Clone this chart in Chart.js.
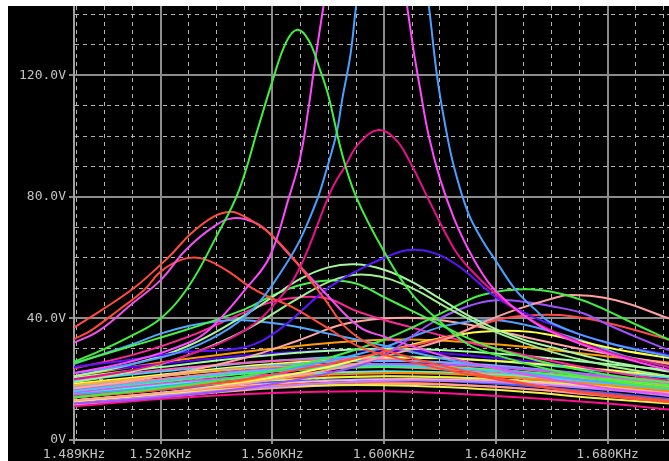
<!DOCTYPE html>
<html>
<head>
<meta charset="utf-8">
<script src="https://cdn.jsdelivr.net/npm/chart.js@4.4.1/dist/chart.umd.min.js"></script>
<style>
html, body { margin: 0; padding: 0; background: #fff; }
#wrap { position: absolute; left: 8px; top: 6px; width: 661px; height: 455px; background: #000; }
</style>
</head>
<body>
<div id="wrap"><canvas id="myChart" width="661" height="455"></canvas></div>
<script>
// axis ticks
const xMajorTicks = [1489, 1520, 1560, 1600, 1640, 1680];
const xMajorLabels = ['1.489KHz', '1.520KHz', '1.560KHz', '1.600KHz', '1.640KHz', '1.680KHz'];
const xMinorTicks = [1490, 1500, 1510, 1530, 1540, 1550, 1570, 1580, 1590, 1610, 1620, 1630, 1650, 1660, 1670, 1690, 1700];
const yMajorTicks = [0, 40, 80, 120];
const yMajorLabels = ['0V', '40.0V', '80.0V', '120.0V'];
const yMinorTicks = [10, 20, 30, 50, 60, 70, 90, 100, 110, 130, 140];

// tall / prominent curves (frequency in Hz, value in V)
const tallGreenF = [1489, 1500, 1510, 1520, 1530, 1540, 1548, 1555, 1560, 1565, 1569, 1573, 1577, 1580, 1585, 1590, 1600, 1610, 1620, 1630, 1640, 1660, 1680, 1702];
const tallGreenV = [25.7, 30, 34.5, 40, 50.5, 67, 82, 103, 118, 131, 135, 131.5, 122, 113.5, 94, 80, 62, 48, 39, 31.5, 28, 23, 19.5, 17];
const magentaTallF = [1489, 1510, 1530, 1538, 1551, 1559, 1566, 1570, 1573, 1575, 1577, 1582, 1588, 1594, 1600, 1605, 1610, 1613, 1616, 1620, 1625, 1630, 1635, 1640, 1650, 1660, 1680, 1702];
const magentaTallV = [22, 26, 32, 36.8, 50.3, 60.2, 80, 93, 109.5, 122.7, 135, 165, 205, 220, 205, 165, 131.6, 115, 100, 86, 73, 63, 55, 49, 41, 35.5, 28.5, 23];
const blueTallF = [1489, 1510, 1530, 1545, 1555, 1565, 1570, 1576, 1579, 1583, 1585, 1588, 1590, 1596, 1603, 1610, 1616, 1619, 1622, 1625, 1630, 1635, 1640, 1647, 1654, 1660, 1680, 1702];
const blueTallV = [22, 25, 30, 37, 45, 58, 66, 79, 87.7, 101, 112, 127, 143, 185, 205, 185, 143, 119.5, 103, 90, 75, 66, 59, 49.5, 43, 38.5, 32, 27.5];
const crimsonF = [1489, 1510, 1530, 1550, 1562, 1570, 1581, 1586, 1591, 1598, 1604, 1609, 1616, 1625, 1630, 1640, 1650, 1660, 1680, 1702];
const crimsonV = [20, 23, 28, 36, 46, 57, 82, 90, 97.6, 102, 99, 92, 79, 63, 57, 48, 41, 36, 29, 24];
const redPeakF = [1489, 1499, 1511, 1523, 1531, 1539, 1545, 1549, 1554, 1559, 1567, 1579, 1586, 1595, 1610, 1630, 1660, 1680, 1702];
const redPeakV = [37, 42.8, 50.4, 60.3, 68, 73.5, 75.1, 74, 71.4, 68, 60.3, 46, 37.3, 31.5, 27, 22.5, 17, 14.5, 12.5];
const pinkPeakF = [1489, 1498, 1510, 1520, 1529, 1539, 1546, 1554, 1559, 1567, 1579, 1591, 1600, 1620, 1640, 1660, 1680, 1702];
const pinkPeakV = [32, 36, 45, 52.6, 62.5, 70.2, 73, 71.4, 68, 60, 48.3, 37.3, 34, 28, 23.5, 20, 17, 15];
const red60F = [1489, 1495, 1505, 1514, 1520, 1527, 1533, 1538, 1545, 1552, 1559, 1567, 1579, 1591, 1600, 1620, 1640, 1660, 1680, 1702];
const red60V = [33.2, 36, 42.8, 49.3, 55.4, 59.2, 60, 58.7, 55, 50.4, 47, 43.8, 37.3, 30.7, 28, 23.5, 20, 17, 15, 13];
const violetF = [1489, 1510, 1530, 1550, 1562, 1579, 1591, 1601, 1609, 1618, 1627, 1640, 1650, 1660, 1680, 1702];
const violetV = [24, 26.5, 29, 30.5, 36, 49.3, 56, 60.3, 62.5, 61.5, 57, 47, 42, 38, 32, 28];
const lightGreen1F = [1489, 1510, 1530, 1550, 1560, 1570, 1580, 1590, 1600, 1610, 1620, 1630, 1640, 1650, 1660, 1680, 1702];
const lightGreen1V = [21, 25, 31, 41, 47, 53, 56.8, 57.8, 56, 52, 46.5, 41, 36.5, 33, 30.5, 26, 22.5];
const lightGreen2F = [1489, 1510, 1530, 1550, 1570, 1583, 1595, 1609, 1622, 1630, 1640, 1660, 1680, 1702];
const lightGreen2V = [19, 22.5, 28, 36, 47, 53, 54.3, 50.4, 43.8, 40, 35.5, 29, 24.5, 21];
const greenMidF = [1489, 1510, 1530, 1550, 1560, 1570, 1580, 1590, 1600, 1610, 1620, 1630, 1640, 1660, 1680, 1702];
const greenMidV = [25.3, 31, 36.5, 43, 47.5, 51, 52.5, 51.5, 47, 42.5, 38, 33.5, 30, 25, 21.5, 19];
const greenRightF = [1489, 1520, 1550, 1580, 1600, 1610, 1623, 1635, 1650, 1660, 1671, 1680, 1689, 1702];
const greenRightV = [14, 17, 21, 27, 33, 37, 42.8, 47.7, 49.6, 48.8, 46, 42.5, 38.5, 33];
const salmonRightF = [1489, 1520, 1550, 1580, 1600, 1623, 1635, 1647, 1660, 1667, 1683, 1702];
const salmonRightV = [13, 15.5, 18.5, 23, 27.5, 33.5, 38.5, 42.8, 46.5, 47.7, 46, 40];
const purpleRightF = [1489, 1520, 1550, 1580, 1599, 1617, 1630, 1640, 1650, 1660, 1671, 1680, 1690, 1702];
const purpleRightV = [12, 14, 17, 22, 27.4, 38.5, 44, 46, 45.5, 44, 41.8, 38, 34, 29.5];
const redRightF = [1489, 1520, 1550, 1580, 1600, 1623, 1635, 1647, 1663, 1680, 1702];
const redRightV = [14, 16.5, 20, 25, 29, 34, 38, 40.6, 41.1, 38.5, 33];
const yellowRightF = [1489, 1520, 1550, 1580, 1600, 1620, 1635, 1652, 1670, 1685, 1702];
const yellowRightV = [13, 15.5, 19, 24, 29, 33.5, 35.6, 35.6, 32.5, 29.5, 27];
const blueRightF = [1489, 1520, 1550, 1580, 1600, 1610, 1623, 1638, 1650, 1670, 1685, 1702];
const blueRightV = [15, 17.5, 21, 26, 30.5, 34, 37.8, 39.5, 38, 33, 28, 24];
const blueLeftF = [1489, 1500, 1510, 1520, 1530, 1540, 1548, 1560, 1570, 1580, 1591, 1600, 1620, 1640, 1660, 1680, 1702];
const blueLeftV = [25, 28.5, 31.5, 35, 37.5, 39, 39.5, 38.5, 37, 35, 32.9, 31, 27, 23.5, 21, 19, 17];
const hotPinkF = [1489, 1510, 1530, 1550, 1560, 1570, 1580, 1590, 1600, 1610, 1620, 1640, 1660, 1680, 1702];
const hotPinkV = [23.5, 28, 34, 42, 45.5, 47, 46.5, 42.5, 39.5, 37, 34.5, 30, 26, 22.5, 19.5];
const salmonMidF = [1489, 1520, 1550, 1570, 1585, 1600, 1615, 1630, 1650, 1670, 1702];
const salmonMidV = [17, 21, 27, 33, 38, 40, 40, 38, 34, 30, 25];

// low, flat curves all read at the same frequencies
const clusterF = [1489, 1520, 1560, 1600, 1640, 1680, 1702];
const orange1V = [21, 25.5, 30, 33, 31.5, 27.5, 25.5];
const violet2V = [22, 25, 28.5, 29.5, 27, 23, 21];
const lightGreen3V = [20.5, 24, 28, 30, 28.5, 25, 23];
const cyanV = [19.5, 22.5, 26, 27.5, 26, 22.5, 20.5];
const yellow1V = [18.5, 21.5, 25, 27, 26, 23, 21];
const pink2V = [20, 23, 26, 26.5, 24, 20.5, 18.5];
const lightBlueV = [17.5, 21, 24.5, 26, 24.5, 21, 19];
const orange2V = [18, 21, 24, 25, 23, 19.5, 17.5];
const purple2V = [16.5, 20, 23.5, 25, 24, 21, 19.5];
const salmon2V = [17, 20, 23, 24, 22, 18.5, 16.5];
const green2V = [16, 19, 22.5, 24, 23, 20, 18];
const magenta2V = [15.5, 18.5, 21.5, 22.5, 21, 17.5, 15.5];
const tealV = [15, 18, 21, 22.5, 21.5, 18.5, 16.5];
const red2V = [14.5, 17, 20, 21, 20, 17, 15];
const limeV = [14, 16.5, 19.5, 21, 20, 17.5, 16];
const blue2V = [14, 16.5, 19, 20, 18.5, 15.5, 13.5];
const lightPinkV = [13, 15.5, 18.5, 20, 19.5, 17, 15.5];
const orangeRedV = [13, 15.5, 18, 19, 17.5, 14.5, 13];
const salmon3V = [11.5, 14, 17, 18.5, 17.5, 14.5, 12.5];
const yellow2V = [12.5, 15, 17.5, 18, 16.5, 13.5, 12];
const hotPink2V = [11, 13.5, 15.5, 16, 14.5, 12, 10];
const skyV = [16, 19.5, 23, 24.5, 22.5, 18.5, 16.5];
const lavenderV = [12, 14.5, 17.5, 19.5, 19, 16.5, 14.5];
const orange3V = [14, 17, 20.5, 22, 21, 18, 16];

function pairs(f, v) {
    return f.map((x, i) => ({ x: x, y: v[i] }));
}

const curves = [
    [clusterF, orange1V, '#ff9c00'], [clusterF, violet2V, '#5a00ff'], [clusterF, lightGreen3V, '#a0ffa0'],
    [clusterF, cyanV, '#30d8ff'], [clusterF, yellow1V, '#ffff40'], [clusterF, pink2V, '#ff60c0'],
    [clusterF, lightBlueV, '#70b0ff'], [clusterF, orange2V, '#ffb030'], [clusterF, purple2V, '#b060ff'],
    [clusterF, salmon2V, '#ff8080'], [clusterF, green2V, '#40ff40'], [clusterF, magenta2V, '#ff40ff'],
    [clusterF, tealV, '#40ffd0'], [clusterF, red2V, '#ff3030'], [clusterF, limeV, '#d0ff40'],
    [clusterF, blue2V, '#4060ff'], [clusterF, lightPinkV, '#ffb0d0'], [clusterF, orangeRedV, '#ff7030'],
    [clusterF, salmon3V, '#ffa0a0'], [clusterF, yellow2V, '#f0f050'], [clusterF, hotPink2V, '#ff1090'],
    [clusterF, skyV, '#50c0ff'], [clusterF, lavenderV, '#c080ff'], [clusterF, orange3V, '#ff8c00'],
    [salmonMidF, salmonMidV, '#ffa8a0'], [hotPinkF, hotPinkV, '#ff2898'], [blueLeftF, blueLeftV, '#50a8ff'],
    [blueRightF, blueRightV, '#50a0ff'], [yellowRightF, yellowRightV, '#ffff48'], [redRightF, redRightV, '#ff4848'],
    [purpleRightF, purpleRightV, '#a050ff'], [salmonRightF, salmonRightV, '#ffa0a0'], [greenRightF, greenRightV, '#40f040'],
    [greenMidF, greenMidV, '#48f048'], [lightGreen2F, lightGreen2V, '#a0f090'], [lightGreen1F, lightGreen1V, '#a8f8a0'],
    [violetF, violetV, '#5a14ff'], [red60F, red60V, '#ff4a3a'], [pinkPeakF, pinkPeakV, '#f050f0'],
    [redPeakF, redPeakV, '#ff4c3c'], [crimsonF, crimsonV, '#e8108c'], [blueTallF, blueTallV, '#4aa0ff'],
    [magentaTallF, magentaTallV, '#ff48ff'], [tallGreenF, tallGreenV, '#40f040']
];

const gridMajor = '#8c8c8c';
const gridMinor = '#b4b4b4';
const font = { family: 'DejaVu Sans Mono', size: 13 };

function isMajor(list, ctx) {
    return ctx.tick && list.includes(ctx.tick.value);
}

const ctx = document.getElementById('myChart').getContext('2d');
new Chart(ctx, {
    type: 'line',
    data: {
        datasets: curves.map(c => ({
            data: pairs(c[0], c[1]),
            borderColor: c[2],
            borderWidth: 2,
            pointRadius: 0,
            fill: false,
            tension: 0.4
        })).reverse()
    },
    options: {
        animation: false,
        responsive: false,
        devicePixelRatio: 1,
        layout: { padding: 0 },
        plugins: { legend: { display: false }, tooltip: { enabled: false } },
        scales: {
            x: {
                type: 'linear',
                min: 1489,
                max: 1702,
                afterBuildTicks: s => { s.ticks = xMajorTicks.concat(xMinorTicks).map(v => ({ value: v })); },
                afterFit: s => { s.height = 21; s.paddingLeft = 0; s.paddingRight = 0; },
                ticks: {
                    autoSkip: false,
                    maxRotation: 0,
                    padding: 3,
                    color: '#c4c4c4',
                    font: font,
                    callback: v => { const i = xMajorTicks.indexOf(v); return i >= 0 ? xMajorLabels[i] : ''; }
                },
                grid: {
                    color: c => isMajor(xMajorTicks, c) ? gridMajor : gridMinor,
                    lineWidth: c => isMajor(xMajorTicks, c) ? 2 : 1,
                    tickLength: 4,
                    tickColor: c => isMajor(xMajorTicks, c) ? gridMajor : 'rgba(0,0,0,0)'
                },
                border: { color: '#a0a0a0', width: 2, dash: c => (c.tick && !xMajorTicks.includes(c.tick.value)) ? [4, 4] : [] }
            },
            y: {
                min: 0,
                max: 142.8,
                afterBuildTicks: s => { s.ticks = yMajorTicks.concat(yMinorTicks).map(v => ({ value: v })); },
                afterFit: s => { s.width = 66; s.paddingTop = 0; s.paddingBottom = 0; },
                ticks: {
                    autoSkip: false,
                    padding: 3,
                    color: '#c4c4c4',
                    font: font,
                    callback: v => { const i = yMajorTicks.indexOf(v); return i >= 0 ? yMajorLabels[i] : ''; }
                },
                grid: {
                    color: c => isMajor(yMajorTicks, c) ? gridMajor : gridMinor,
                    lineWidth: c => isMajor(yMajorTicks, c) ? 2 : 1,
                    tickLength: 5,
                    tickColor: c => isMajor(yMajorTicks, c) ? gridMajor : 'rgba(0,0,0,0)'
                },
                border: { color: '#a0a0a0', width: 2, dash: c => (c.tick && !yMajorTicks.includes(c.tick.value)) ? [4, 4] : [] }
            }
        }
    }
});
</script>
</body>
</html>
